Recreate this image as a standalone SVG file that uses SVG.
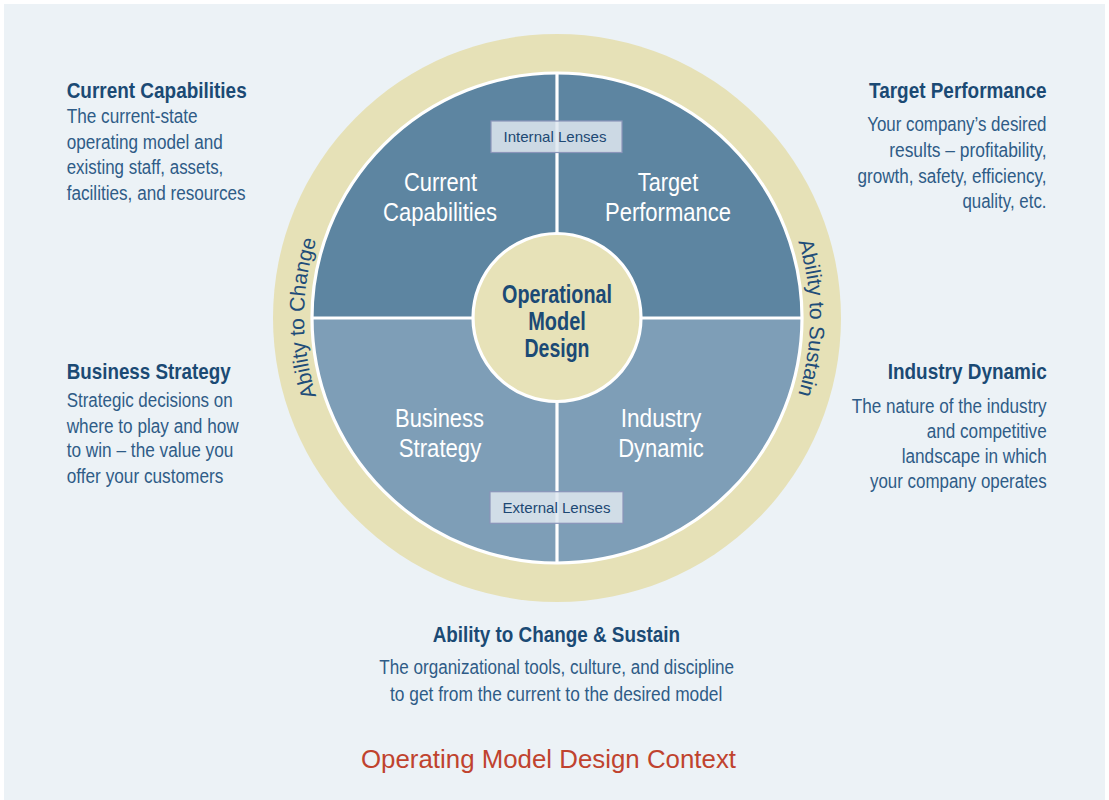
<svg xmlns="http://www.w3.org/2000/svg" width="1109" height="800" viewBox="0 0 1109 800">
<defs>
<style>
.ttl{font-family:"Liberation Sans",Arial,sans-serif;font-weight:bold;font-size:22.5px;fill:#1b4a74}
.body{font-family:"Liberation Sans",Arial,sans-serif;font-size:20px;fill:#2f5c87}
.q{font-family:"Liberation Sans",Arial,sans-serif;font-size:26px;fill:#ffffff;text-anchor:middle}
.ctr{font-family:"Liberation Sans",Arial,sans-serif;font-weight:bold;font-size:25.5px;fill:#1b4a75;text-anchor:middle}
.lens{font-family:"Liberation Sans",Arial,sans-serif;font-size:15px;fill:#1d4873;text-anchor:middle}
.lensbox{fill:#dfe7f0;fill-opacity:0.85;stroke:#8a95ba;stroke-width:1.2}
.ring{font-family:"Liberation Sans",Arial,sans-serif;font-size:21px;fill:#1f4d79}
.div{stroke:#ffffff;stroke-width:3.2;fill:none}
</style>
<path id="arcL" d="M363.2,480.6 A253,253 0 0 1 363.2,155.4"/>
<path id="arcR" d="M750.8,155.4 A253,253 0 0 1 750.8,480.6"/>
</defs>
<rect x="0" y="0" width="1109" height="800" fill="#ffffff"/>
<rect x="4" y="4" width="1101" height="796" fill="#ecf2f6"/>

<g id="ring">
<circle cx="557" cy="318" r="284" fill="#e6e1b7"/>
<text class="ring"><textPath href="#arcL" startOffset="50%" text-anchor="middle">Ability to Change</textPath></text>
<text class="ring"><textPath href="#arcR" startOffset="50%" text-anchor="middle">Ability to Sustain</textPath></text>
</g>

<g id="quadrants">
<circle cx="557" cy="318" r="245" fill="#7e9eb7"/>
<path d="M312,318 A245,245 0 0 1 802,318 Z" fill="#5d85a1"/>
</g>

<g id="connectors">
<circle class="div" cx="557" cy="318" r="245"/>
<line class="div" x1="312" y1="318" x2="802" y2="318"/>
<line class="div" x1="557" y1="73" x2="557" y2="563"/>
</g>

<g id="node-current-capabilities">
<text class="q" x="440.5" y="190.7" textLength="73" lengthAdjust="spacingAndGlyphs">Current</text>
<text class="q" x="440" y="220.7" textLength="114" lengthAdjust="spacingAndGlyphs">Capabilities</text>
</g>
<g id="node-target-performance">
<text class="q" x="668" y="190.7" textLength="60.5" lengthAdjust="spacingAndGlyphs">Target</text>
<text class="q" x="668" y="220.7" textLength="126" lengthAdjust="spacingAndGlyphs">Performance</text>
</g>
<g id="node-business-strategy">
<text class="q" x="439.5" y="427.3" textLength="89" lengthAdjust="spacingAndGlyphs">Business</text>
<text class="q" x="440" y="456.7" textLength="82.5" lengthAdjust="spacingAndGlyphs">Strategy</text>
</g>
<g id="node-industry-dynamic">
<text class="q" x="661" y="427.3" textLength="80.5" lengthAdjust="spacingAndGlyphs">Industry</text>
<text class="q" x="661" y="456.7" textLength="85.5" lengthAdjust="spacingAndGlyphs">Dynamic</text>
</g>

<g id="node-internal-lenses">
<rect class="lensbox" x="491" y="121" width="131" height="31.5"/>
<text class="lens" x="555" y="142.3" textLength="103" lengthAdjust="spacingAndGlyphs">Internal Lenses</text>
</g>
<g id="node-external-lenses">
<rect class="lensbox" x="490" y="491.7" width="133" height="31.6"/>
<text class="lens" x="556.5" y="513.3" textLength="108" lengthAdjust="spacingAndGlyphs">External Lenses</text>
</g>

<g id="node-operational-model-design">
<circle cx="557" cy="317.5" r="84" fill="#e7e2b8" stroke="#ffffff" stroke-width="3.2"/>
<text class="ctr" x="557" y="303.3" textLength="110" lengthAdjust="spacingAndGlyphs">Operational</text>
<text class="ctr" x="557" y="330" textLength="57.6" lengthAdjust="spacingAndGlyphs">Model</text>
<text class="ctr" x="557" y="356.7" textLength="65" lengthAdjust="spacingAndGlyphs">Design</text>
</g>

<g id="desc-current-capabilities">
<text class="ttl" x="66.7" y="98.3" textLength="180" lengthAdjust="spacingAndGlyphs">Current Capabilities</text>
<text class="body" x="66.7" y="123.3" textLength="131" lengthAdjust="spacingAndGlyphs">The current-state</text>
<text class="body" x="66.7" y="148.7" textLength="156" lengthAdjust="spacingAndGlyphs">operating model and</text>
<text class="body" x="66.7" y="174.3" textLength="156.6" lengthAdjust="spacingAndGlyphs">existing staff, assets,</text>
<text class="body" x="66.7" y="199.7" textLength="179" lengthAdjust="spacingAndGlyphs">facilities, and resources</text>
</g>

<g id="desc-target-performance" text-anchor="end">
<text class="ttl" x="1046.5" y="97.7" textLength="177.5" lengthAdjust="spacingAndGlyphs">Target Performance</text>
<text class="body" x="1046.5" y="131" textLength="179.3" lengthAdjust="spacingAndGlyphs">Your company’s desired</text>
<text class="body" x="1046.5" y="156.7" textLength="157.3" lengthAdjust="spacingAndGlyphs">results – profitability,</text>
<text class="body" x="1046.5" y="182.7" textLength="189" lengthAdjust="spacingAndGlyphs">growth, safety, efficiency,</text>
<text class="body" x="1046.5" y="207.7" textLength="84" lengthAdjust="spacingAndGlyphs">quality, etc.</text>
</g>

<g id="desc-business-strategy">
<text class="ttl" x="66.7" y="379.3" textLength="164" lengthAdjust="spacingAndGlyphs">Business Strategy</text>
<text class="body" x="66.7" y="407.3" textLength="166" lengthAdjust="spacingAndGlyphs">Strategic decisions on</text>
<text class="body" x="66.7" y="432.7" textLength="172" lengthAdjust="spacingAndGlyphs">where to play and how</text>
<text class="body" x="66.7" y="457.3" textLength="166.7" lengthAdjust="spacingAndGlyphs">to win – the value you</text>
<text class="body" x="66.7" y="482.7" textLength="156.7" lengthAdjust="spacingAndGlyphs">offer your customers</text>
</g>

<g id="desc-industry-dynamic" text-anchor="end">
<text class="ttl" x="1046.7" y="379.3" textLength="159" lengthAdjust="spacingAndGlyphs">Industry Dynamic</text>
<text class="body" x="1046.7" y="413.3" textLength="195" lengthAdjust="spacingAndGlyphs">The nature of the industry</text>
<text class="body" x="1046.7" y="438.3" textLength="120" lengthAdjust="spacingAndGlyphs">and competitive</text>
<text class="body" x="1046.7" y="463.3" textLength="145" lengthAdjust="spacingAndGlyphs">landscape in which</text>
<text class="body" x="1046.7" y="488.3" textLength="176.7" lengthAdjust="spacingAndGlyphs">your company operates</text>
</g>

<g id="desc-ability" text-anchor="middle">
<text class="ttl" x="556.3" y="642.3" textLength="247.3" lengthAdjust="spacingAndGlyphs">Ability to Change &amp; Sustain</text>
<text class="body" x="556.7" y="674.3" textLength="354.7" lengthAdjust="spacingAndGlyphs">The organizational tools, culture, and discipline</text>
<text class="body" x="556.2" y="700.7" textLength="332.3" lengthAdjust="spacingAndGlyphs">to get from the current to the desired model</text>
</g>

<g id="caption">
<text x="548.5" y="768.3" text-anchor="middle" font-family="Liberation Sans, Arial, sans-serif" font-size="25.5" fill="#c0432e" textLength="375" lengthAdjust="spacingAndGlyphs">Operating Model Design Context</text>
</g>
</svg>
